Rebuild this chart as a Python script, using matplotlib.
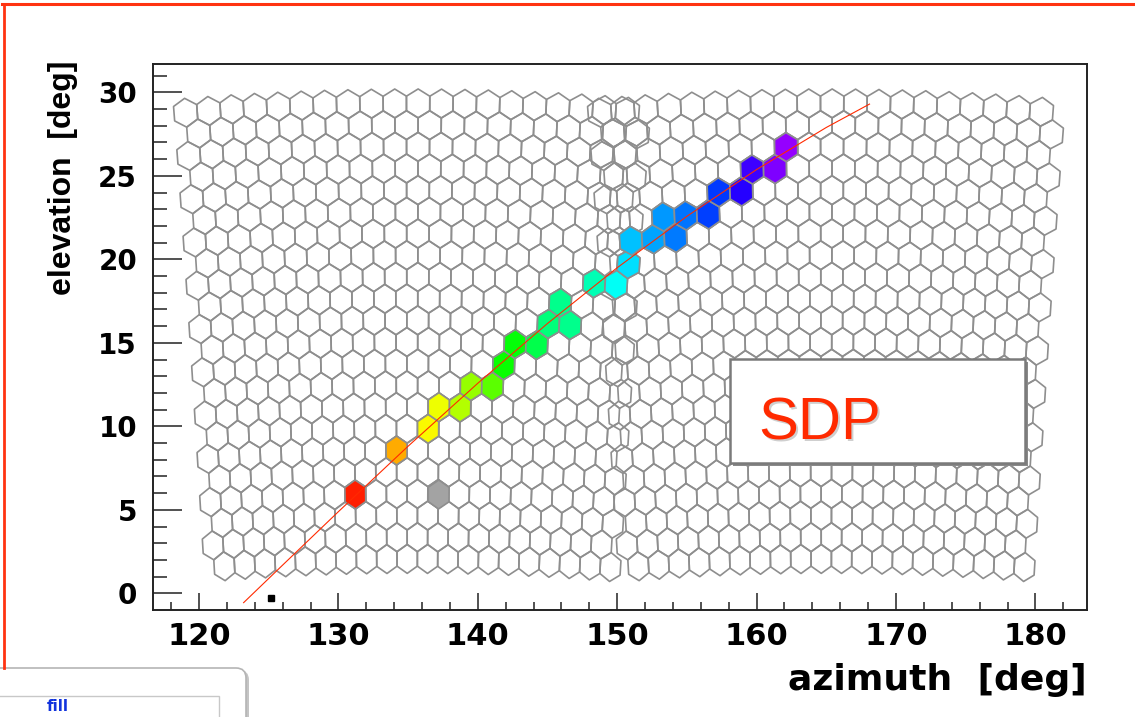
import numpy as np
import matplotlib.pyplot as plt
from matplotlib.collections import PolyCollection
from matplotlib.patches import Rectangle, FancyBboxPatch
from matplotlib.lines import Line2D
from matplotlib import transforms

plt.rcParams['font.family'] = 'DejaVu Sans'
plt.rcParams['font.weight'] = 'bold'

# two fluorescence cameras, 22 rows x 20 columns of 1.5 deg hexagonal pixels
cam_az = [135.3, 165.0]
cam_el = 15.7
n_rows = 22
n_cols = 20
pix = 1.5

# triggered pixels (direction) and their relative trigger time
hit_az = [131.2, 134.2, 136.5, 137.3, 138.8, 139.6, 141.1, 141.9, 142.7, 144.2,
          145.0, 145.8, 146.6, 147.9, 150.1, 150.9, 151.0, 152.7, 153.5, 154.3,
          155.0, 156.6, 157.3, 159.0, 159.9, 161.4, 162.2]
hit_el = [6.1, 8.7, 10.06, 11.4, 11.4, 12.6, 12.6, 13.95, 15.3, 15.0,
          16.3, 17.7, 16.3, 18.3, 18.6, 19.9, 21.3, 21.3, 22.7, 21.4,
          22.7, 22.8, 24.2, 24.1, 25.5, 25.5, 26.9]
hit_time = [0.022, 0.115, 0.17, 0.18, 0.22, 0.24, 0.28, 0.333, 0.34, 0.39,
            0.42, 0.43, 0.43, 0.46, 0.50, 0.53, 0.55, 0.567, 0.578, 0.594,
            0.60, 0.635, 0.64, 0.70, 0.715, 0.76, 0.775]

# pixel out of time (grey)
noise_az = [137.1]
noise_el = [6.1]

# fitted shower-detector plane
sdp_az = [123.2, 126, 130, 135, 140, 145, 150, 155, 160, 165, 168.1]
sdp_el = [-0.56, 1.69, 4.89, 8.81, 12.58, 16.16, 19.5, 22.58, 25.38, 27.9, 29.3]

# station marker
mark_az = [125.2]
mark_el = [-0.3]


def to_azel(u, v, az0, el0):
    u, v, e = np.radians(u), np.radians(v), np.radians(el0)
    x = np.cos(v) * np.cos(u)
    y = np.cos(v) * np.sin(u)
    z = np.sin(v)
    x2 = x * np.cos(e) - z * np.sin(e)
    z2 = x * np.sin(e) + z * np.cos(e)
    return az0 + np.degrees(np.arctan2(y, x2)), np.degrees(np.arcsin(z2))


hex_du = np.array([0, .75, .75, 0, -.75, -.75])
hex_dv = np.array([.866, .433, -.433, -.866, -.433, .433])

polys = []
centers = []
for az0 in cam_az:
    for r in range(n_rows):
        v = (r - 10.5) * 1.299
        shift = 0.375 if r % 2 == 0 else -0.375
        for c in range(n_cols):
            u = (c - 9.5) * pix + shift
            a, e = to_azel(u + hex_du, v + hex_dv, az0, cam_el)
            polys.append(np.column_stack([a, e]))
            centers.append(to_azel(u, v, az0, cam_el))
centers = np.array(centers)


def nearest(az, el):
    d = ((centers[:, 0] - az) * np.cos(np.radians(el))) ** 2 + (centers[:, 1] - el) ** 2
    return int(np.argmin(d))


fig = plt.figure(figsize=(11.35, 7.17), dpi=100)
ax = fig.add_axes([153 / 1135, 1 - 610 / 717, (1087 - 153) / 1135, (610 - 64) / 717])

ax.add_collection(PolyCollection(polys, facecolors='none', edgecolors='#8e8e8e', linewidths=1.2))

hit_idx = [nearest(a, e) for a, e in zip(hit_az, hit_el)]
ax.add_collection(PolyCollection([polys[i] for i in hit_idx],
                                 facecolors=plt.cm.hsv(np.array(hit_time)),
                                 edgecolors='#8e8e8e', linewidths=1.2))
noise_idx = [nearest(a, e) for a, e in zip(noise_az, noise_el)]
ax.add_collection(PolyCollection([polys[i] for i in noise_idx],
                                 facecolors='#a3a3a3', edgecolors='#8e8e8e', linewidths=1.2))

ax.plot(sdp_az, sdp_el, color='#ff2a00', lw=0.8)
ax.plot(mark_az, mark_el, 's', color='black', ms=5, clip_on=False)

ax.set_xlim(116.7, 183.7)
ax.set_ylim(-1.0, 31.7)
ax.set_xticks(range(120, 181, 10))
ax.set_xticks(np.arange(118, 184, 2), minor=True)
ax.set_yticks(range(0, 31, 5))
ax.set_yticks(np.arange(0, 32, 1), minor=True)
ax.tick_params(axis='x', which='major', direction='in', length=12, width=1.1,
               labelsize=22, pad=8.5, color='#222222')
ax.tick_params(axis='x', which='minor', direction='in', length=6, width=1.1, color='#222222')
ax.tick_params(axis='y', which='major', direction='in', length=21, width=1.1,
               labelsize=20, pad=11.5, color='#222222')
ax.tick_params(axis='y', which='minor', direction='in', length=10, width=1.1, color='#222222')
for s in ax.spines.values():
    s.set_linewidth(1.4)
    s.set_color('#222222')

fig.text(1087 / 1135, 1 - 690 / 717, 'azimuth  [deg]', ha='right', va='baseline', fontsize=26)
fig.text(63 / 1135, 1 - 178 / 717, 'elevation  [deg]', rotation=90, ha='center', va='center',
         fontsize=23, family='Liberation Sans')

# SDP label box
inch = fig.dpi_scale_trans
fig.add_artist(Rectangle((7.33, (717 - 466) / 100), 2.95, 1.04, transform=inch,
                         facecolor='#8a8a8a', edgecolor='none'))
fig.add_artist(Rectangle((7.30, (717 - 463) / 100), 2.95, 1.04, transform=inch,
                         facecolor='white', edgecolor='#7a7a7a', lw=1.8))
shadow = transforms.offset_copy(inch, fig=fig, x=2, y=-2, units='dots')
fig.text(7.58, (717 - 440) / 100, 'SDP', transform=shadow, fontsize=43, color='#cfcfcf',
         family='Liberation Sans', weight='normal', va='baseline')
fig.text(7.58, (717 - 440) / 100, 'SDP', transform=inch, fontsize=43, color='#ff2a00',
         family='Liberation Sans', weight='normal', va='baseline')

# red slide frame
fig.add_artist(Line2D([0.02, 11.35], [(717 - 4) / 100] * 2, transform=inch, color='#ff3311', lw=2.2))
fig.add_artist(Line2D([0.035, 0.035], [(717 - 4) / 100, (717 - 668) / 100], transform=inch,
                      color='#ff3311', lw=2.0))

# next slide box at the bottom edge
fig.add_artist(FancyBboxPatch((-0.27, -0.37), 2.76, 0.84, boxstyle='round,pad=0,rounding_size=0.1',
                              transform=inch, facecolor='#c4c4c4', edgecolor='none'))
fig.add_artist(FancyBboxPatch((-0.3, -0.35), 2.76, 0.84, boxstyle='round,pad=0,rounding_size=0.1',
                              transform=inch, facecolor='white', edgecolor='#b5b5b5', lw=1.2))
fig.add_artist(Rectangle((-0.2, -0.3), 2.39, 0.51, transform=inch, facecolor='white',
                         edgecolor='#c8c8c8', lw=1.0))
fig.text(0.47, 0.03, 'fill', transform=inch, fontsize=11, color='#1133dd', va='bottom')

fig.savefig('out.png', dpi=100)
